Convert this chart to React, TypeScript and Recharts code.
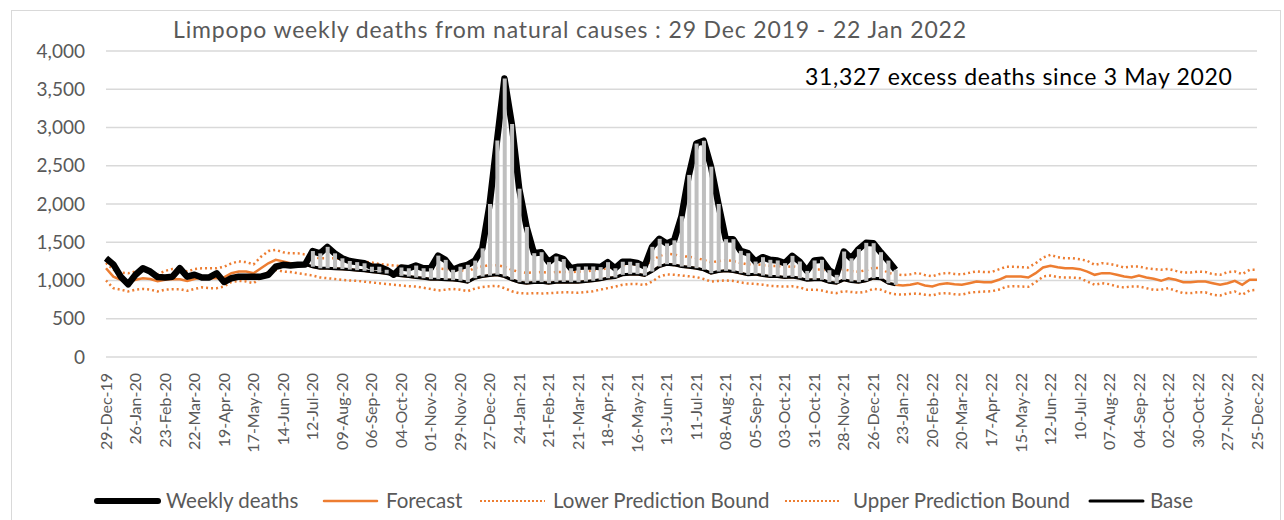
import React from "react"
import {
  ComposedChart,
  Line,
  Bar,
  XAxis,
  YAxis,
  CartesianGrid,
} from "recharts"

// tick labels, one every 4 weeks (29 Dec 2019 .. 25 Dec 2022)
const tickLabels = [
  "29-Dec-19", "26-Jan-20", "23-Feb-20", "22-Mar-20", "19-Apr-20", "17-May-20",
  "14-Jun-20", "12-Jul-20", "09-Aug-20", "06-Sep-20", "04-Oct-20", "01-Nov-20",
  "29-Nov-20", "27-Dec-20", "24-Jan-21", "21-Feb-21", "21-Mar-21", "18-Apr-21",
  "16-May-21", "13-Jun-21", "11-Jul-21", "08-Aug-21", "05-Sep-21", "03-Oct-21",
  "31-Oct-21", "28-Nov-21", "26-Dec-21", "23-Jan-22", "20-Feb-22", "20-Mar-22",
  "17-Apr-22", "15-May-22", "12-Jun-22", "10-Jul-22", "07-Aug-22", "04-Sep-22",
  "02-Oct-22", "30-Oct-22", "27-Nov-22", "25-Dec-22",
]

// weekly deaths, 29 Dec 2019 .. 16 Jan 2022
const weeklyDeaths = [
  1290, 1210, 1050, 950, 1075, 1160, 1117, 1045, 1040, 1050,
  1160, 1050, 1075, 1040, 1040, 1095, 980, 1030, 1050, 1050,
  1050, 1050, 1075, 1180, 1205, 1195, 1205, 1210, 1385, 1355,
  1440, 1355, 1290, 1255, 1240, 1225, 1180, 1180, 1140, 1075,
  1170, 1160, 1195, 1160, 1160, 1325, 1270, 1140, 1180, 1205,
  1260, 1420, 2000, 2830, 3640, 3045, 2200, 1700, 1357, 1370,
  1240, 1314, 1280, 1160, 1180, 1183, 1183, 1175, 1240, 1160,
  1245, 1245, 1230, 1185, 1440, 1545, 1485, 1525, 1840, 2380,
  2790, 2828, 2488, 2000, 1540, 1540, 1388, 1357, 1248, 1305,
  1270, 1262, 1227, 1322, 1248, 1125, 1262, 1270, 1135, 1074,
  1379, 1290, 1410, 1492, 1488, 1370, 1260, 1140,
]

// base (expected deaths counted from 3 May 2020)
const baseDeaths = [
  1290, 1210, 1050, 950, 1075, 1160, 1117, 1045, 1040, 1050,
  1160, 1050, 1075, 1040, 1040, 1095, 980, 1030, 1050, 1050,
  1050, 1050, 1075, 1180, 1205, 1195, 1205, 1210, 1180, 1160,
  1160, 1155, 1150, 1143, 1135, 1126, 1113, 1104, 1091, 1075,
  1061, 1052, 1039, 1030, 1017, 1017, 1009, 1005, 996, 978,
  1030, 1052, 1065, 1074, 1052, 1009, 978, 965, 974, 978,
  965, 978, 980, 978, 978, 987, 996, 1009, 1030, 1039,
  1074, 1083, 1083, 1065, 1117, 1183, 1213, 1204, 1183, 1174,
  1161, 1139, 1096, 1117, 1126, 1117, 1096, 1074, 1083, 1065,
  1052, 1052, 1039, 1045, 1030, 1005, 1009, 1009, 978, 965,
  1009, 987, 978, 996, 1030, 1022, 965, 944,
]

const forecast = [
  1160, 1050, 1010, 980, 1010, 1030, 1020, 990, 1010, 1020,
  1017, 995, 1020, 1040, 1030, 1030, 1040, 1095, 1117, 1117,
  1095, 1160, 1225, 1270, 1250, 1225, 1225, 1210, 1180, 1160,
  1160, 1155, 1150, 1143, 1135, 1126, 1113, 1104, 1091, 1080,
  1061, 1052, 1039, 1030, 1017, 1017, 1009, 1005, 996, 978,
  1030, 1052, 1065, 1074, 1052, 1009, 978, 965, 974, 978,
  965, 978, 980, 978, 978, 987, 996, 1009, 1030, 1039,
  1074, 1083, 1083, 1065, 1117, 1183, 1213, 1204, 1183, 1174,
  1161, 1139, 1096, 1117, 1126, 1117, 1096, 1074, 1083, 1065,
  1052, 1052, 1039, 1045, 1030, 1005, 1009, 1009, 978, 965,
  1009, 987, 978, 996, 1030, 1022, 965, 944, 935, 944,
  965, 935, 922, 952, 965, 952, 944, 965, 987, 978,
  978, 1009, 1052, 1052, 1052, 1039, 1096, 1170, 1191, 1174,
  1161, 1161, 1148, 1117, 1074, 1096, 1096, 1074, 1052, 1039,
  1065, 1039, 1022, 996, 1030, 1009, 978, 978, 987, 987,
  965, 944, 965, 996, 944, 1009, 1009,
]

const lowerBound = [
  1000, 900, 880, 857, 880, 890, 880, 857, 880, 887,
  887, 865, 890, 910, 900, 900, 922, 980, 995, 987,
  965, 1040, 1117, 1140, 1117, 1110, 1095, 1080, 1065, 1040,
  1030, 1020, 1010, 1000, 995, 985, 975, 965, 955, 945,
  935, 925, 920, 905, 890, 870, 880, 890, 880, 860,
  895, 915, 925, 930, 900, 860, 835, 830, 835, 830,
  835, 840, 845, 845, 840, 850, 860, 880, 900, 920,
  945, 955, 955, 940, 985, 1050, 1080, 1075, 1065, 1055,
  1045, 1020, 985, 995, 1000, 995, 975, 960, 955, 945,
  930, 925, 920, 925, 910, 880, 880, 870, 845, 835,
  860, 850, 840, 855, 890, 880, 840, 820, 815, 825,
  830, 815, 805, 830, 835, 820, 815, 840, 850, 855,
  860, 880, 920, 925, 922, 917, 978, 1052, 1065, 1043,
  1039, 1039, 1030, 987, 944, 965, 952, 922, 909, 922,
  922, 900, 878, 880, 900, 865, 835, 835, 848, 845,
  813, 804, 835, 857, 813, 870, 878,
]

const upperBound = [
  1230, 1140, 1105, 1095, 1117, 1130, 1117, 1080, 1125, 1150,
  1150, 1117, 1150, 1160, 1160, 1160, 1180, 1225, 1250, 1240,
  1210, 1310, 1385, 1400, 1370, 1355, 1355, 1340, 1305, 1290,
  1290, 1290, 1280, 1265, 1255, 1245, 1235, 1215, 1205, 1195,
  1190, 1185, 1175, 1170, 1160, 1155, 1150, 1140, 1135, 1115,
  1165, 1185, 1200, 1200, 1180, 1140, 1110, 1100, 1105, 1110,
  1100, 1110, 1112, 1110, 1115, 1120, 1130, 1145, 1160, 1175,
  1200, 1210, 1210, 1200, 1255, 1320, 1350, 1340, 1320, 1310,
  1295, 1270, 1235, 1255, 1265, 1255, 1230, 1210, 1215, 1200,
  1190, 1190, 1175, 1185, 1170, 1140, 1145, 1145, 1115, 1100,
  1145, 1125, 1115, 1135, 1165, 1160, 1100, 1080, 1070, 1080,
  1100, 1070, 1055, 1085, 1100, 1085, 1080, 1100, 1120, 1110,
  1110, 1145, 1180, 1180, 1175, 1170, 1226, 1300, 1335, 1304,
  1291, 1291, 1278, 1257, 1204, 1226, 1217, 1196, 1170, 1183,
  1183, 1161, 1148, 1140, 1152, 1126, 1104, 1104, 1117, 1112,
  1083, 1074, 1109, 1117, 1083, 1139, 1139,
]

const ORANGE = "#ED7D31"
const TEXT = "#595959"
const FONT = "Lato, 'Open Sans', sans-serif"

const data = forecast.map((f, i) => ({
  i,
  deaths: i < weeklyDeaths.length ? weeklyDeaths[i] : null,
  base: i < baseDeaths.length ? baseDeaths[i] : null,
  excess: i < weeklyDeaths.length ? [baseDeaths[i], weeklyDeaths[i]] : null,
  forecast: f,
  lower: lowerBound[i],
  upper: upperBound[i],
}))

function DateTick({ x, y, payload }: any) {
  return (
    <g transform={`translate(${x},${y})`}>
      <text
        transform="rotate(-90)"
        x={-8}
        dy="0.35em"
        textAnchor="end"
        fill={TEXT}
        fontSize={16}
        fontFamily={FONT}
      >
        {tickLabels[Math.round(payload.value / 4)]}
      </text>
    </g>
  )
}

// legend entries: sample line from x1 to x2, text starting at tx
const legendItems = [
  { label: "Weekly deaths", stroke: "#000", width: 6, x1: 97, x2: 158, tx: 166 },
  { label: "Forecast", stroke: ORANGE, width: 2.5, x1: 324, x2: 377, tx: 386 },
  { label: "Lower Prediction Bound", stroke: ORANGE, width: 2, dash: "2 2", x1: 480, x2: 545, tx: 553 },
  { label: "Upper Prediction Bound", stroke: ORANGE, width: 2, dash: "2 2", x1: 785, x2: 840, tx: 853 },
  { label: "Base", stroke: "#000", width: 3, x1: 1090, x2: 1143, tx: 1150 },
]

export default function App() {
  return (
    <div style={{ position: "relative", width: 1284, height: 520, background: "#fff", fontFamily: FONT }}>
      <style>{`body{margin:0}`}</style>

      <div
        style={{
          position: "absolute",
          left: 11,
          top: 10,
          width: 1268,
          height: 520,
          border: "1px solid #D9D9D9",
        }}
      />

      <div
        style={{
          position: "absolute",
          left: 0,
          width: 1140,
          top: 15,
          textAlign: "center",
          fontSize: 23,
          letterSpacing: 0.85,
          color: TEXT,
          whiteSpace: "nowrap",
        }}
      >
        Limpopo weekly deaths from natural causes : 29 Dec 2019 - 22 Jan 2022
      </div>

      <div
        style={{
          position: "absolute",
          left: 805,
          top: 62,
          fontSize: 23,
          letterSpacing: 0.7,
          color: "#000",
          whiteSpace: "nowrap",
        }}
      >
        31,327 excess deaths since 3 May 2020
      </div>

      <div style={{ position: "absolute", left: 0, top: 0 }}>
        <ComposedChart
          width={1284}
          height={520}
          data={data}
          margin={{ top: 51, right: 27, bottom: 78, left: 46 }}
        >
          <CartesianGrid vertical={false} stroke="#D9D9D9" strokeWidth={1.5} />

          <XAxis
            type="number"
            dataKey="i"
            domain={[0, 156]}
            ticks={tickLabels.map((_, k) => k * 4)}
            interval={0}
            tick={<DateTick />}
            tickLine={false}
            axisLine={false}
            height={85}
          />

          <YAxis
            domain={[0, 4000]}
            ticks={[0, 500, 1000, 1500, 2000, 2500, 3000, 3500, 4000]}
            tickFormatter={(v) => v.toLocaleString("en-US")}
            tick={{ fill: TEXT, fontSize: 19, fontFamily: FONT }}
            tickLine={false}
            axisLine={false}
            tickSize={0}
            tickMargin={21}
            width={60}
          />

          <Line
            dataKey="forecast"
            stroke={ORANGE}
            strokeWidth={2.5}
            dot={false}
            isAnimationActive={false}
          />
          <Line
            dataKey="lower"
            stroke={ORANGE}
            strokeWidth={2.5}
            strokeDasharray="2 3"
            dot={false}
            isAnimationActive={false}
          />
          <Line
            dataKey="upper"
            stroke={ORANGE}
            strokeWidth={2.5}
            strokeDasharray="2 3"
            dot={false}
            isAnimationActive={false}
          />
          <Line
            dataKey="base"
            stroke="#000"
            strokeWidth={3}
            dot={false}
            isAnimationActive={false}
          />
          <Line
            dataKey="deaths"
            stroke="#000"
            strokeWidth={6.5}
            strokeLinejoin="round"
            dot={false}
            isAnimationActive={false}
          />
          <Bar
            dataKey="excess"
            fill="#BFBFBF"
            barSize={4}
            zIndex={600}
            isAnimationActive={false}
          />
        </ComposedChart>
      </div>

      <svg
        width={1284}
        height={30}
        style={{ position: "absolute", left: 0, top: 487 }}
        fontFamily={FONT}
      >
        {legendItems.map((it) => (
          <g key={it.label}>
            <line
              x1={it.x1}
              x2={it.x2}
              y1={14}
              y2={14}
              stroke={it.stroke}
              strokeWidth={it.width}
              strokeDasharray={it.dash}
              strokeLinecap={it.dash ? "butt" : "round"}
            />
            <text x={it.tx} y={14} dy="0.35em" fontSize={20.5} fill={TEXT}>
              {it.label}
            </text>
          </g>
        ))}
      </svg>
    </div>
  )
}
